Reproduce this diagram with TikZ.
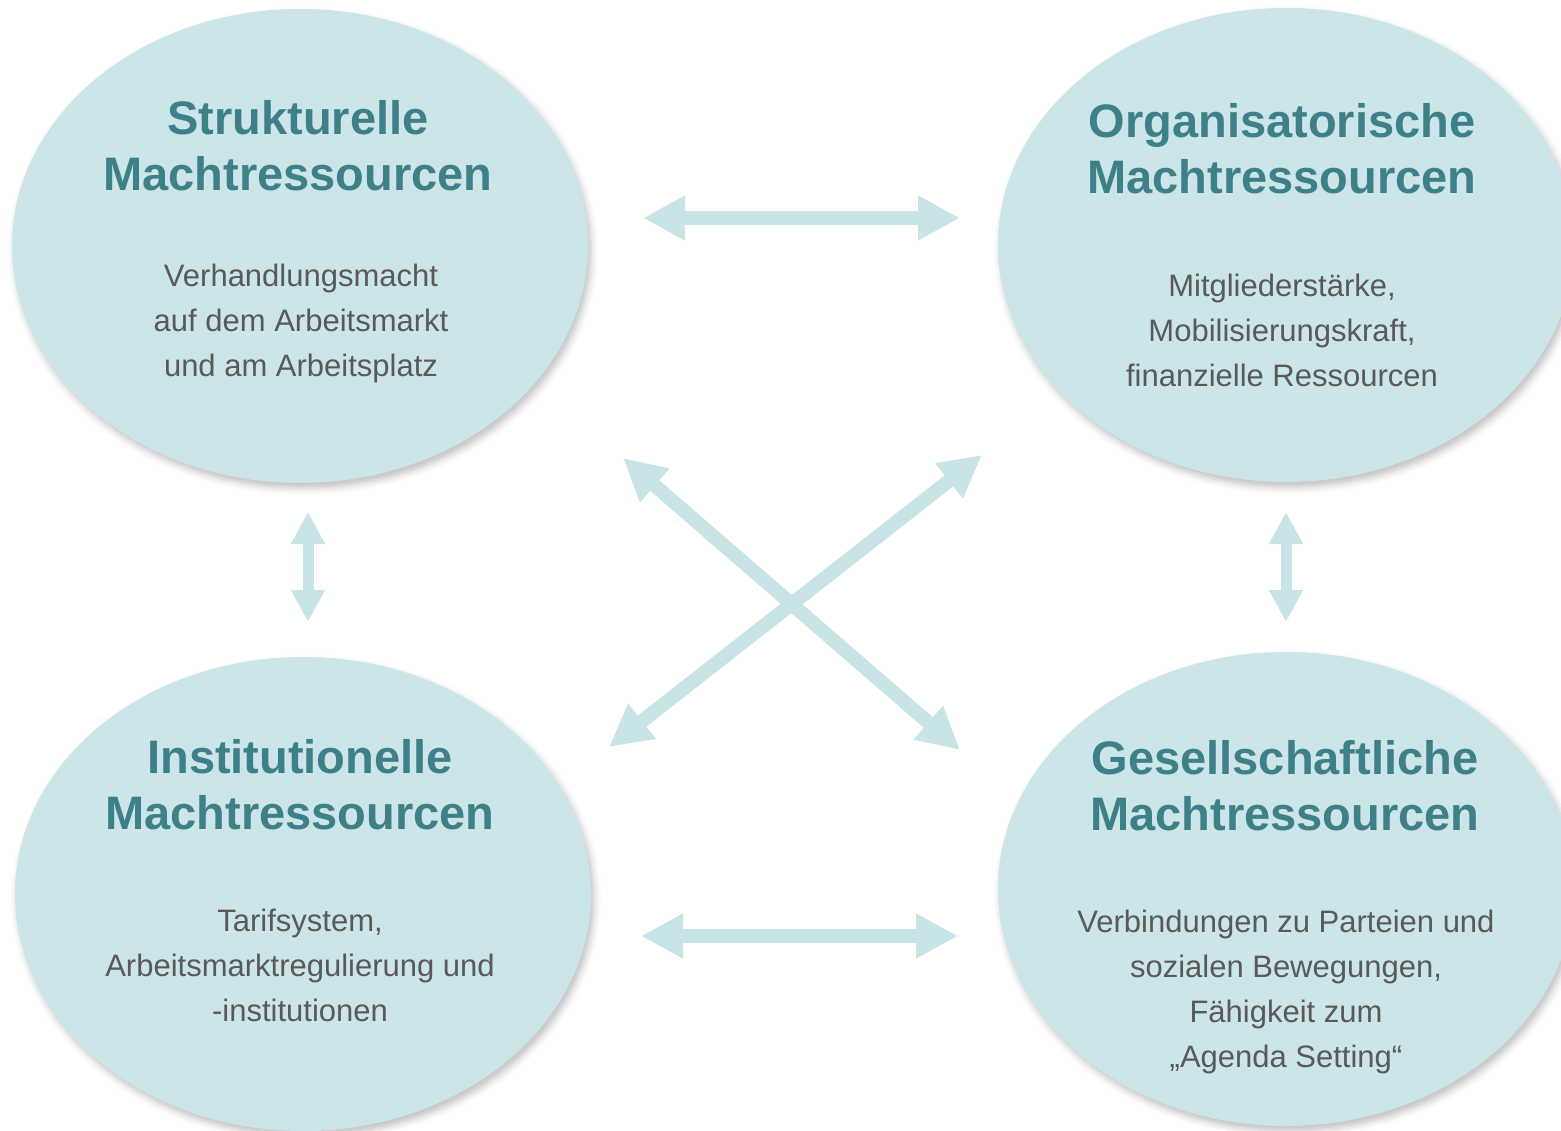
\documentclass[tikz,border=0pt]{standalone}
\usepackage{fontspec}
\setmainfont{Liberation Sans}
\usetikzlibrary{arrows.meta,shapes.geometric,shadows.blur}
\definecolor{fillc}{HTML}{CBE5E8}
\definecolor{arrowc}{HTML}{C9E4E7}
\definecolor{titlec}{HTML}{3D8088}
\definecolor{bodyc}{HTML}{595959}
\begin{document}
\begin{tikzpicture}[x=1pt,y=-1pt,
  bubble/.style={ellipse,fill=fillc,draw=none,inner sep=0pt,minimum width=576pt,minimum height=474pt,
    blur shadow={shadow xshift=3pt,shadow yshift=-5pt,shadow blur radius=7pt,shadow opacity=25}},
  titletext/.style={align=center,text=titlec,font=\fontsize{47}{56}\selectfont\bfseries,inner sep=0pt},
  bodytext/.style={align=center,text=bodyc,font=\fontsize{31}{45}\selectfont,inner sep=0pt},
  bigarrow/.style={draw=arrowc,line width=14pt,{Triangle[width=42pt,length=42pt]}-{Triangle[width=42pt,length=42pt]}},
  smallarrow/.style={draw=arrowc,line width=11pt,{Triangle[width=32pt,length=32pt]}-{Triangle[width=32pt,length=32pt]}}]
\useasboundingbox (0,0) rectangle (1561,1131);
\clip (0,0) rectangle (1561,1131);

\node[bubble] (sm) at (300,246) {};
\node[bubble] (om) at (1286,245) {};
\node[bubble] (im) at (303,894) {};
\node[bubble] (gm) at (1286,889) {};

\node[titletext] (smT) at (298,146) {Strukturelle\\Machtressourcen};
\node[bodytext]  (smB) at (301,323) {Verhandlungsmacht\\auf dem Arbeitsmarkt\\und am Arbeitsplatz};

\node[titletext] (omT) at (1282,149) {Organisatorische\\Machtressourcen};
\node[bodytext]  (omB) at (1282,330) {Mitgliederstärke,\\Mobilisierungskraft,\\finanzielle Ressourcen};

\node[titletext] (imT) at (300,785) {Institutionelle\\Machtressourcen};
\node[bodytext]  (imB) at (300,965) {Tarifsystem,\\Arbeitsmarktregulierung und\\-institutionen};

\node[titletext] (gmT) at (1285,786) {Gesellschaftliche\\Machtressourcen};
\node[bodytext]  (gmB) at (1286,992) {Verbindungen zu Parteien und\\sozialen Bewegungen,\\Fähigkeit zum\\„Agenda Setting“};

\coordinate (h1a) at (643,218);
\coordinate (h1b) at (960,218);
\coordinate (h2a) at (641,936);
\coordinate (h2b) at (958,936);
\coordinate (v1a) at (308,512);
\coordinate (v1b) at (308,622);
\coordinate (v2a) at (1286,512);
\coordinate (v2b) at (1286,622);
\coordinate (d1a) at (623,458);
\coordinate (d1b) at (960,750);
\coordinate (d2a) at (982,455);
\coordinate (d2b) at (609,747);

\draw[bigarrow] (h1a) -- (h1b);
\draw[bigarrow] (h2a) -- (h2b);
\draw[smallarrow] (v1a) -- (v1b);
\draw[smallarrow] (v2a) -- (v2b);
\draw[bigarrow] (d1a) -- (d1b);
\draw[bigarrow] (d2a) -- (d2b);
\end{tikzpicture}
\end{document}
